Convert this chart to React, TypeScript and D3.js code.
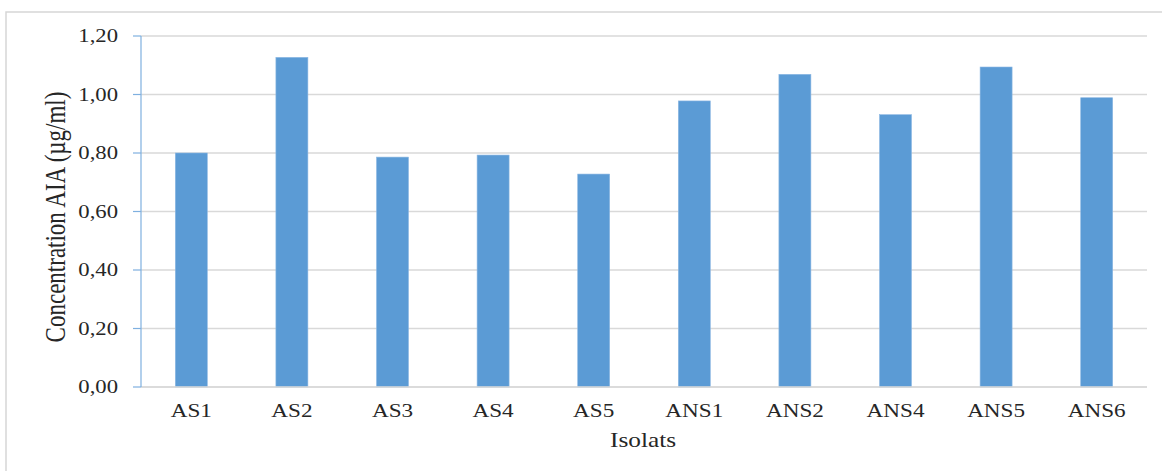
import React from "react";
import * as d3 from "d3";

// Isolate names and measured auxin (AIA) concentration, µg/ml
const isolats: string[] = ["AS1", "AS2", "AS3", "AS4", "AS5", "ANS1", "ANS2", "ANS4", "ANS5", "ANS6"];
const concentrations: number[] = [0.8, 1.127, 0.786, 0.793, 0.728, 0.978, 1.069, 0.931, 1.094, 0.989];
const yTicks: number[] = [0, 0.2, 0.4, 0.6, 0.8, 1.0, 1.2];

const W = 1162;
const H = 471;
const left = 141;
const right = 1147;
const top = 36;
const bottom = 387;
const FONT = "'Liberation Serif', 'Times New Roman', serif";
const TEXT = "#262626";
const SX = 1.26; // horizontal stretch of glyphs

const fmt = (v: number) => v.toFixed(2).replace(".", ",");

export default function App() {
  const x = d3.scaleBand<string>().domain(isolats).range([left, right]).paddingInner(0.682).paddingOuter(0.341);
  const y = d3.scaleLinear().domain([0, 1.2]).range([bottom, top]);

  return (
    <svg
      width={W}
      height={H}
      style={{ position: "absolute", left: 0, top: 0, background: "#fff" }}
    >
      <rect x={6} y={12} width={W + 10} height={H + 10} fill="#fff" stroke="#d6d6d6" strokeWidth={1.5} />

      {/* gridlines */}
      {yTicks.map((t) => (
        <line key={"g" + t} x1={left} x2={right} y1={y(t)} y2={y(t)} stroke="#d9d9d9" strokeWidth={1.4} />
      ))}

      {/* bars */}
      {isolats.map((name, i) => (
        <rect
          key={name}
          x={x(name)}
          y={y(concentrations[i])}
          width={x.bandwidth()}
          height={y(0) - y(concentrations[i])}
          fill="#5b9bd5"
          stroke="#8db8e3"
          strokeWidth={0.6}
        />
      ))}

      {/* x axis line */}
      <line x1={left} x2={right} y1={y(0)} y2={y(0)} stroke="#d9d9d9" strokeWidth={1.5} />

      {/* y axis line and ticks */}
      <line x1={left} x2={left} y1={y(1.2)} y2={y(0)} stroke="#7fb0e0" strokeWidth={1.2} />
      {yTicks.map((t) => (
        <line key={"t" + t} x1={left - 8} x2={left} y1={y(t)} y2={y(t)} stroke="#7fb0e0" strokeWidth={1.2} />
      ))}

      {/* y tick labels */}
      {yTicks.map((t) => (
        <text
          key={"l" + t}
          transform={`translate(118,${y(t)}) scale(${SX},1)`}
          dy="0.36em"
          textAnchor="end"
          fontFamily={FONT}
          fontSize={18}
          fill={TEXT}
        >
          {fmt(t)}
        </text>
      ))}

      {/* x tick labels */}
      {isolats.map((name) => (
        <text
          key={"x" + name}
          transform={`translate(${(x(name) as number) + x.bandwidth() / 2},416.5) scale(${SX - 0.04},1)`}
          textAnchor="middle"
          fontFamily={FONT}
          fontSize={19}
          fill={TEXT}
        >
          {name}
        </text>
      ))}

      {/* axis titles */}
      <text
        transform={`translate(643,447) scale(1.15,1)`}
        textAnchor="middle"
        fontFamily={FONT}
        fontSize={22}
        fill={TEXT}
      >
        Isolats
      </text>
      <text
        transform={`translate(65,217) scale(1.28,1) rotate(-90)`}
        textAnchor="middle"
        fontFamily={FONT}
        fontSize={23}
        fill={TEXT}
      >
        Concentration AIA (µg/ml)
      </text>
    </svg>
  );
}
